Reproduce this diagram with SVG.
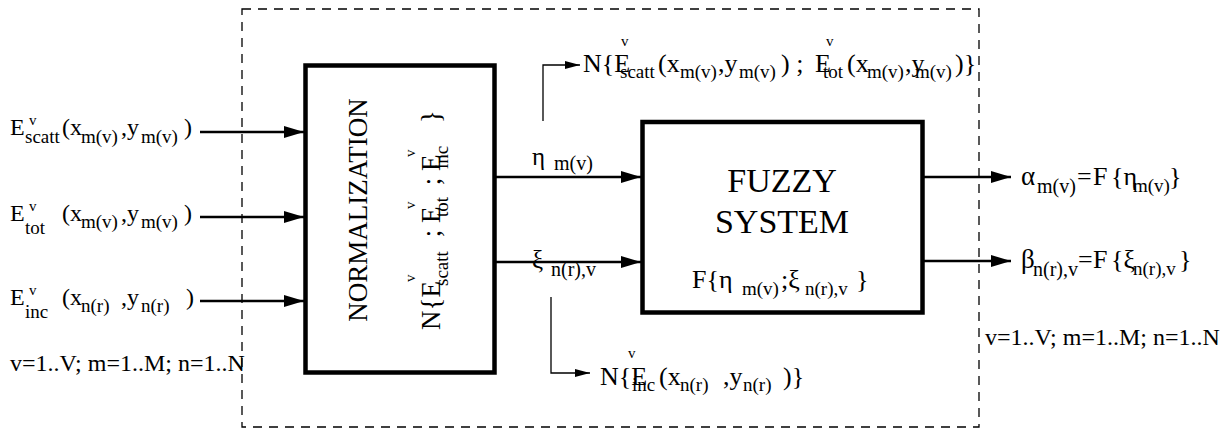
<svg xmlns="http://www.w3.org/2000/svg" width="1230" height="434" viewBox="0 0 1230 434">
<style>
text { font-family: "Liberation Serif", "Times New Roman", serif; fill: #000; font-size: 24px; }
.s { font-size: 19px; }
.u { font-size: 15px; }
.big { font-size: 26px; }
.box { fill: none; stroke: #000; stroke-width: 4.5; }
.thick { fill: none; stroke: #000; stroke-width: 2.7; }
.thin { fill: none; stroke: #000; stroke-width: 1.3; }
.dash { fill: none; stroke: #000; stroke-width: 1.3; stroke-dasharray: 9 7; }
</style>
<defs>
<marker id="ah" markerUnits="userSpaceOnUse" markerWidth="22" markerHeight="14" refX="20" refY="7" orient="auto">
<path d="M0,1 L20,7 L0,13 z" fill="#000"/>
</marker>
<marker id="ahs" markerUnits="userSpaceOnUse" markerWidth="16" markerHeight="10" refX="15" refY="5" orient="auto">
<path d="M0,1 L15,5 L0,9 z" fill="#000"/>
</marker>
</defs>

<rect id="boundary" class="dash" x="242" y="9" width="737" height="418"/>

<g id="inputs">
<text><tspan x="10" y="135">E</tspan><tspan class="u" x="29" y="125">v</tspan><tspan class="s" x="25" y="143">scatt</tspan><tspan x="62" y="135">(x</tspan><tspan class="s" x="81" y="143">m(v)</tspan><tspan x="121" y="135">,y</tspan><tspan class="s" x="141" y="143">m(v)</tspan><tspan x="184" y="135">)</tspan></text>
<text><tspan x="10" y="221">E</tspan><tspan class="u" x="29" y="211">v</tspan><tspan class="s" x="25" y="234">tot</tspan><tspan x="62" y="221">(x</tspan><tspan class="s" x="81" y="228">m(v)</tspan><tspan x="121" y="221">,y</tspan><tspan class="s" x="141" y="228">m(v)</tspan><tspan x="184" y="221">)</tspan></text>
<text><tspan x="10" y="305">E</tspan><tspan class="u" x="29" y="295">v</tspan><tspan class="s" x="25" y="318">inc</tspan><tspan x="62" y="305">(x</tspan><tspan class="s" x="81" y="312">n(r)</tspan><tspan x="121" y="305">,y</tspan><tspan class="s" x="141" y="312">n(r)</tspan><tspan x="186" y="305">)</tspan></text>
<text x="10" y="371">v=1..V; m=1..M; n=1..N</text>
</g>

<g id="normalization">
<rect class="box" x="305.5" y="65.5" width="189" height="307"/>
<text style="font-size:27px" text-anchor="middle" transform="translate(367,210) rotate(-90)">NORMALIZATION</text>
<text transform="translate(440,330) rotate(-90)" style="font-size:27px"><tspan x="0" y="0">N{E</tspan><tspan class="u" x="48" y="-25">v</tspan><tspan class="s" x="44" y="8">scatt</tspan><tspan x="86" y="0"> ; E</tspan><tspan class="u" x="121" y="-25">v</tspan><tspan class="s" x="113" y="8">tot</tspan><tspan x="138" y="0"> ; E</tspan><tspan class="u" x="173" y="-25">v</tspan><tspan class="s" x="161" y="8">inc</tspan><tspan x="200" y="0"> }</tspan></text>
</g>

<g id="fuzzy">
<rect class="box" x="642.5" y="122" width="280" height="190.5"/>
<text style="font-size:34px" text-anchor="middle" x="782" y="192">FUZZY</text>
<text style="font-size:34px" text-anchor="middle" x="782" y="233">SYSTEM</text>
<text style="font-size:26px"><tspan x="692" y="288">F{η</tspan><tspan class="s" x="742" y="295">m(v)</tspan><tspan x="781" y="288">;ξ</tspan><tspan class="s" x="805" y="295">n(r),v</tspan><tspan x="856" y="288">}</tspan></text>
</g>

<g id="signals">
<text style="font-size:25px"><tspan x="532" y="165">η</tspan><tspan class="s" style="font-size:20px" x="554" y="170">m(v)</tspan></text>
<text style="font-size:25px"><tspan x="532" y="268">ξ</tspan><tspan class="s" style="font-size:20px" x="551" y="276">n(r),v</tspan></text>
</g>

<g id="branch-top-label">
<text class="big"><tspan x="583" y="72">N{E</tspan><tspan class="u" x="621" y="46">v</tspan><tspan class="s" x="620" y="78">scatt</tspan><tspan x="658" y="72">(x</tspan><tspan class="s" x="680" y="78">m(v)</tspan><tspan x="718" y="72">,y</tspan><tspan class="s" x="739" y="78">m(v)</tspan><tspan x="781" y="72">) ;</tspan><tspan x="815" y="72">E</tspan><tspan class="u" x="826" y="46">v</tspan><tspan class="s" x="823" y="78">tot</tspan><tspan x="847" y="72">(x</tspan><tspan class="s" x="867" y="78">m(v)</tspan><tspan x="905" y="72">,y</tspan><tspan class="s" x="915" y="78">m(v)</tspan><tspan x="955" y="72">)}</tspan></text>
</g>

<g id="branch-bottom-label">
<text class="big"><tspan x="600" y="385">N{E</tspan><tspan class="u" x="628" y="358">v</tspan><tspan class="s" x="632" y="391">inc</tspan><tspan x="659" y="385">(x</tspan><tspan class="s" x="680" y="391">n(r)</tspan><tspan x="723" y="385">,y</tspan><tspan class="s" x="743" y="391">n(r)</tspan><tspan x="783" y="385">)}</tspan></text>
</g>

<g id="outputs">
<text class="big"><tspan style="font-size:27px" x="1021" y="185">α</tspan><tspan class="s" style="font-size:20px" x="1037" y="193">m(v)</tspan><tspan x="1077" y="185">=</tspan><tspan x="1093" y="185">F</tspan><tspan x="1111" y="185">{η</tspan><tspan class="s" x="1133" y="192">m(v)</tspan><tspan x="1169" y="185">}</tspan></text>
<text class="big"><tspan style="font-size:27px" x="1021" y="268">β</tspan><tspan class="s" style="font-size:20px" x="1033" y="276">n(r),v</tspan><tspan x="1078" y="268">=</tspan><tspan x="1093" y="268">F</tspan><tspan x="1111" y="268">{ξ</tspan><tspan class="s" x="1133" y="275">n(r),v</tspan><tspan x="1179" y="268">}</tspan></text>
<text x="985" y="345">v=1..V; m=1..M; n=1..N</text>
</g>

<g id="connectors">
<line class="thick" x1="200" y1="132" x2="304" y2="132" marker-end="url(#ah)"/>
<line class="thick" x1="200" y1="217" x2="304" y2="217" marker-end="url(#ah)"/>
<line class="thick" x1="200" y1="301" x2="304" y2="301" marker-end="url(#ah)"/>
<line class="thick" x1="496" y1="177" x2="641" y2="177" marker-end="url(#ah)"/>
<line class="thick" x1="496" y1="262" x2="641" y2="262" marker-end="url(#ah)"/>
<line class="thick" x1="924" y1="177" x2="1011" y2="177" marker-end="url(#ah)"/>
<line class="thick" x1="924" y1="261" x2="1011" y2="261" marker-end="url(#ah)"/>
<polyline class="thin" points="543,121 543,65 580,65" marker-end="url(#ahs)"/>
<polyline class="thin" points="551,297 551,373 590,373" marker-end="url(#ahs)"/>
</g>
</svg>
